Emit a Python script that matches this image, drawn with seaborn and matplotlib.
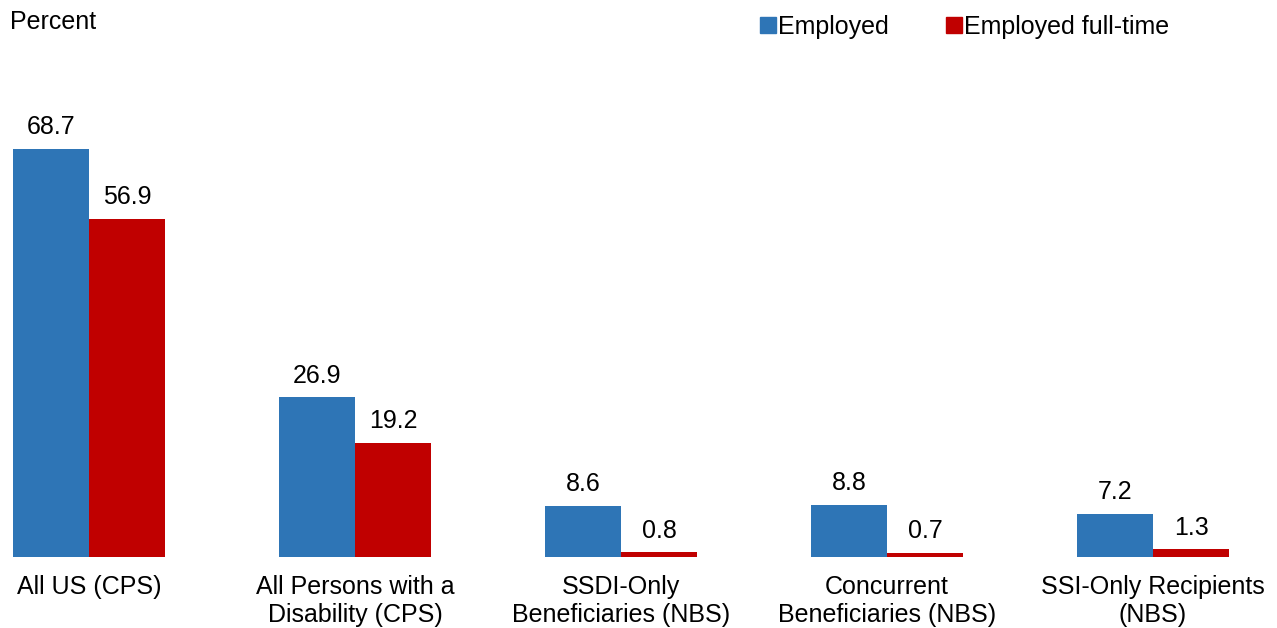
import matplotlib
matplotlib.use("Agg")
import matplotlib.pyplot as plt
import seaborn as sns
import pandas as pd

# data
groups = ["All US (CPS)", "All Persons with a\nDisability (CPS)", "SSDI-Only\nBeneficiaries (NBS)",
          "Concurrent\nBeneficiaries (NBS)", "SSI-Only Recipients\n(NBS)"]
employed = [68.7, 26.9, 8.6, 8.8, 7.2]
employed_ft = [56.9, 19.2, 0.8, 0.7, 1.3]
series = ["Employed", "Employed full-time"]
colors = ["#2E75B6", "#C00000"]

df = pd.DataFrame({
    "group": groups * 2,
    "value": employed + employed_ft,
    "series": [series[0]] * len(groups) + [series[1]] * len(groups),
})

sns.set_style("white")
plt.rcParams["font.family"] = ["Liberation Sans", "DejaVu Sans"]
plt.rcParams["text.color"] = "black"
plt.rcParams["xtick.color"] = "black"

fig = plt.figure(figsize=(12.77, 6.28), dpi=100)
ax = fig.add_axes([0, 0.1131, 1, 0.8869])

sns.barplot(data=df, x="group", y="value", hue="series", palette=colors,
            width=0.571, gap=0, saturation=1, linewidth=0, ax=ax, legend=False)

for c in ax.containers:
    ax.bar_label(c, fmt="%.1f", padding=7, fontsize=18, color="black")

ax.set_xlim(-0.335, 4.466)
ax.set_ylim(0, 93.8)
ax.set_yticks([])
ax.set_xlabel("")
ax.set_ylabel("")
ax.tick_params(axis="x", length=0, pad=13, labelsize=18, labelcolor="black")
for s in ax.spines.values():
    s.set_visible(False)

fig.text(0.008, 0.965, "Percent", fontsize=18, va="center", ha="left")

# legend
handles = [plt.Line2D([], [], marker="s", ls="", color=c, markersize=11) for c in colors]
fig.legend(handles, series, loc="center left", bbox_to_anchor=(0.574, 0.957), ncol=2,
           frameon=False, fontsize=18, handletextpad=-0.1, columnspacing=2.1, handlelength=1.0)

fig.savefig("out.png", dpi=100)
